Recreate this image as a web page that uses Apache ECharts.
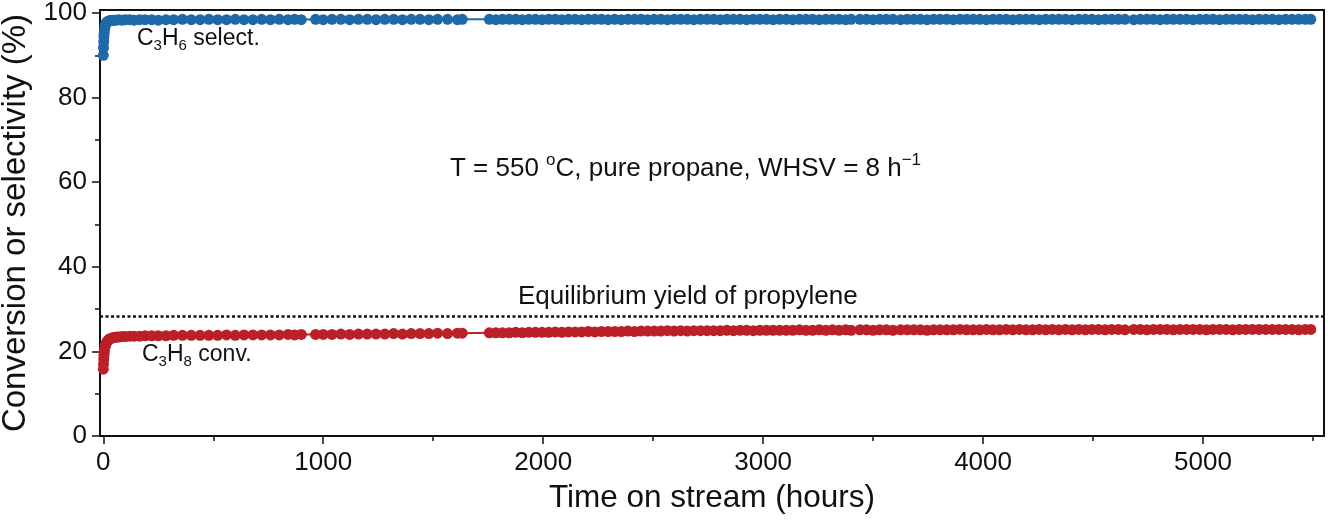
<!DOCTYPE html>
<html>
<head>
<meta charset="utf-8">
<script src="https://cdn.jsdelivr.net/npm/echarts@6/dist/echarts.min.js"></script>
<style>
html,body{margin:0;padding:0;background:#fff;}
#chart{width:1328px;height:520px;}
</style>
</head>
<body>
<div id="chart"></div>
<script>
// Time on stream (hours)
const hours = [
  0,1,2,3,4,6,8,10,13,16,
  20,25,30,36,43,50,60,70,85,100,
  120,140,165,190,220,250,285,320,360,400,
  440,480,520,560,600,640,680,720,760,800,
  840,870,900,965,1000,1040,1080,1120,1160,1200,
  1240,1280,1320,1360,1400,1440,1480,1520,1565,1610,
  1632,1755,1785,1815,1845,1875,1905,1935,1965,1995,
  2025,2055,2085,2115,2145,2175,2205,2235,2265,2295,
  2325,2355,2385,2415,2445,2475,2505,2535,2565,2595,
  2625,2655,2685,2715,2745,2775,2805,2835,2865,2895,
  2925,2955,2985,3015,3045,3075,3105,3135,3165,3195,
  3225,3255,3285,3315,3345,3375,3400,3440,3470,3500,
  3530,3560,3590,3625,3655,3685,3715,3745,3775,3805,
  3835,3865,3895,3925,3955,3985,4015,4045,4075,4105,
  4135,4165,4195,4225,4255,4285,4315,4345,4375,4405,
  4435,4465,4495,4525,4555,4585,4615,4645,4685,4715,
  4745,4775,4805,4835,4865,4895,4925,4955,4985,5015,
  5045,5075,5105,5135,5165,5195,5225,5255,5285,5315,
  5345,5375,5405,5435,5465,5490
];
// C3H6 selectivity (%)
const selectivity = [
  90.0,91.8,93.2,94.4,95.2,96.2,96.8,97.2,97.6,97.8,
  98.0,98.1,98.2,98.2,98.3,98.3,98.3,98.4,98.3,98.4,
  98.4,98.3,98.4,98.4,98.4,98.3,98.4,98.4,98.5,98.4,
  98.4,98.5,98.4,98.4,98.5,98.4,98.4,98.5,98.4,98.5,
  98.4,98.5,98.4,98.5,98.4,98.5,98.5,98.4,98.5,98.5,
  98.4,98.5,98.5,98.4,98.5,98.5,98.4,98.5,98.5,98.4,
  98.5,98.5,98.4,98.5,98.5,98.5,98.4,98.5,98.5,98.4,
  98.5,98.5,98.4,98.5,98.5,98.4,98.5,98.5,98.5,98.4,
  98.5,98.4,98.5,98.5,98.5,98.4,98.5,98.5,98.4,98.5,
  98.5,98.5,98.4,98.5,98.5,98.5,98.4,98.5,98.5,98.5,
  98.4,98.5,98.5,98.5,98.4,98.5,98.5,98.4,98.5,98.5,
  98.5,98.4,98.5,98.5,98.5,98.4,98.5,98.5,98.5,98.4,
  98.5,98.5,98.5,98.4,98.5,98.5,98.5,98.4,98.5,98.5,
  98.5,98.4,98.5,98.5,98.5,98.5,98.4,98.5,98.5,98.5,
  98.4,98.5,98.5,98.5,98.4,98.5,98.5,98.5,98.5,98.4,
  98.5,98.5,98.5,98.4,98.5,98.5,98.5,98.5,98.4,98.5,
  98.5,98.5,98.4,98.5,98.5,98.5,98.5,98.4,98.5,98.5,
  98.5,98.4,98.5,98.5,98.5,98.5,98.4,98.5,98.5,98.5,
  98.4,98.5,98.5,98.5,98.5,98.5
];
// C3H8 conversion (%)
const conversion = [
  15.8,17.0,18.2,19.1,19.8,20.6,21.1,21.5,21.9,22.2,
  22.5,22.8,23.0,23.1,23.2,23.3,23.4,23.4,23.5,23.5,
  23.6,23.6,23.6,23.7,23.7,23.7,23.7,23.8,23.8,23.8,
  23.8,23.8,23.8,23.9,23.8,23.9,23.9,23.9,23.9,23.9,
  24.0,23.9,24.0,24.0,24.0,24.0,24.1,24.0,24.1,24.1,
  24.1,24.1,24.2,24.1,24.2,24.2,24.2,24.3,24.2,24.3,
  24.3,24.4,24.4,24.4,24.4,24.5,24.4,24.5,24.5,24.5,
  24.5,24.6,24.5,24.6,24.6,24.6,24.7,24.6,24.7,24.7,
  24.7,24.7,24.8,24.7,24.8,24.8,24.8,24.8,24.9,24.8,
  24.9,24.8,24.9,24.9,24.9,24.9,24.9,25.0,24.9,25.0,
  25.0,24.9,25.0,25.0,25.0,25.0,25.0,25.0,25.1,25.0,
  25.0,25.1,25.0,25.1,25.0,25.1,25.0,25.1,25.1,25.0,
  25.1,25.1,25.0,25.1,25.1,25.1,25.1,25.0,25.1,25.1,
  25.1,25.1,25.2,25.1,25.1,25.1,25.2,25.1,25.1,25.2,
  25.1,25.2,25.1,25.1,25.2,25.1,25.2,25.1,25.2,25.1,
  25.2,25.1,25.2,25.2,25.1,25.2,25.2,25.1,25.2,25.2,
  25.1,25.2,25.2,25.2,25.1,25.2,25.2,25.2,25.2,25.1,
  25.2,25.2,25.2,25.1,25.2,25.2,25.2,25.2,25.2,25.2,
  25.2,25.2,25.2,25.1,25.2,25.2
];
const equilibriumYield = 28.3;
const xMajorTicks = [0, 1000, 2000, 3000, 4000, 5000];
const xMinorTicks = [500, 1500, 2500, 3500, 4500, 5500];
const yMajorTicks = [0, 20, 40, 60, 80, 100];
const yMinorTicks = [10, 30, 50, 70, 90];

const FONT = "'Liberation Sans', Arial, Helvetica, sans-serif";
const BLUE = '#1f69a8';
const RED = '#bb1f27';
const INK = '#111111';

const selData = hours.map((h, i) => [h, selectivity[i]]);
const convData = hours.map((h, i) => [h, conversion[i]]);

const chart = echarts.init(document.getElementById('chart'), null, {renderer: 'canvas'});

const plain = v => String(v);
const xBase = {type: 'value', min: -15, max: 5550, position: 'bottom', splitLine: {show: false}};
const yBase = {type: 'value', min: 0, max: 100.7, position: 'left', splitLine: {show: false}};

chart.setOption({
  animation: false,
  backgroundColor: '#ffffff',
  textStyle: {fontFamily: FONT},
  grid: {left: 100, right: 4, top: 10, bottom: 84, containLabel: false, outerBoundsMode: 'none',
         show: true, borderColor: INK, borderWidth: 2, backgroundColor: 'transparent'},
  xAxis: [
    Object.assign({}, xBase, {
      name: 'Time on stream (hours)', nameLocation: 'middle', nameGap: 46,
      nameTextStyle: {fontSize: 31.5, color: INK, fontFamily: FONT},
      axisLine: {show: true, onZero: false, lineStyle: {color: INK, width: 2}},
      axisTick: {show: true, inside: false, length: 8, lineStyle: {color: INK, width: 1.5}, customValues: xMajorTicks},
      axisLabel: {show: true, fontSize: 26, color: INK, fontFamily: FONT, margin: 14, formatter: plain, customValues: xMajorTicks}
    }),
    Object.assign({}, xBase, {
      axisLine: {show: false, onZero: false},
      axisTick: {show: true, inside: false, length: 5, lineStyle: {color: INK, width: 1.5}, customValues: xMinorTicks},
      axisLabel: {show: false}
    })
  ],
  yAxis: [
    Object.assign({}, yBase, {
      name: 'Conversion or selectivity (%)', nameLocation: 'middle', nameGap: 64, nameRotate: 90,
      nameTextStyle: {fontSize: 33, color: INK, fontFamily: FONT},
      axisLine: {show: true, onZero: false, lineStyle: {color: INK, width: 2}},
      axisTick: {show: true, inside: false, length: 8, lineStyle: {color: INK, width: 1.5}, customValues: yMajorTicks},
      axisLabel: {show: true, fontSize: 26, color: INK, fontFamily: FONT, margin: 13, formatter: plain, customValues: yMajorTicks}
    }),
    Object.assign({}, yBase, {
      axisLine: {show: false, onZero: false},
      axisTick: {show: true, inside: false, length: 5, lineStyle: {color: INK, width: 1.5}, customValues: yMinorTicks},
      axisLabel: {show: false}
    })
  ],
  series: [
    {
      name: 'C3H6 select.', type: 'line', xAxisIndex: 0, yAxisIndex: 0,
      data: selData, symbol: 'circle', symbolSize: 11, showSymbol: true,
      itemStyle: {color: BLUE}, lineStyle: {color: BLUE, width: 2},
      emphasis: {disabled: true}, z: 3
    },
    {
      name: 'C3H8 conv.', type: 'line', xAxisIndex: 0, yAxisIndex: 0,
      data: convData, symbol: 'circle', symbolSize: 11, showSymbol: true,
      itemStyle: {color: RED}, lineStyle: {color: RED, width: 2},
      emphasis: {disabled: true}, z: 3,
      markLine: {
        silent: true, symbol: ['none', 'none'], label: {show: false},
        lineStyle: {color: INK, width: 2.6, type: [3, 2.5]},
        data: [{yAxis: equilibriumYield}]
      }
    }
  ],
  graphic: [
    {type: 'text', left: 137, top: 27, z: 10, style: {
      text: '{m|C}{s|3}{m|H}{s|6}{m| select.}', verticalAlign: 'top',
      rich: {m: {fontSize: 23, lineHeight: 30, fontFamily: FONT, fill: INK},
             s: {fontSize: 15, lineHeight: 15, fontFamily: FONT, fill: INK, verticalAlign: 'bottom'}}
    }},
    {type: 'text', left: 142, top: 343, z: 10, style: {
      text: '{m|C}{s|3}{m|H}{s|8}{m| conv.}', verticalAlign: 'top',
      rich: {m: {fontSize: 23, lineHeight: 30, fontFamily: FONT, fill: INK},
             s: {fontSize: 15, lineHeight: 15, fontFamily: FONT, fill: INK, verticalAlign: 'bottom'}}
    }},
    {type: 'text', left: 450, top: 152, z: 10, style: {
      text: '{m|T = 550 }{p|o}{m|C, pure propane, WHSV = 8 h}{p|\u22121}', verticalAlign: 'top',
      rich: {m: {fontSize: 26, lineHeight: 34, fontFamily: FONT, fill: INK},
             p: {fontSize: 17, lineHeight: 17, fontFamily: FONT, fill: INK, verticalAlign: 'top'}}
    }},
    {type: 'text', left: 518, top: 280, z: 10, style: {
      text: 'Equilibrium yield of propylene', verticalAlign: 'top',
      rich: {}, font: "26px 'Liberation Sans', Arial, sans-serif", fill: INK, lineHeight: 34
    }}
  ]
});
</script>
</body>
</html>
